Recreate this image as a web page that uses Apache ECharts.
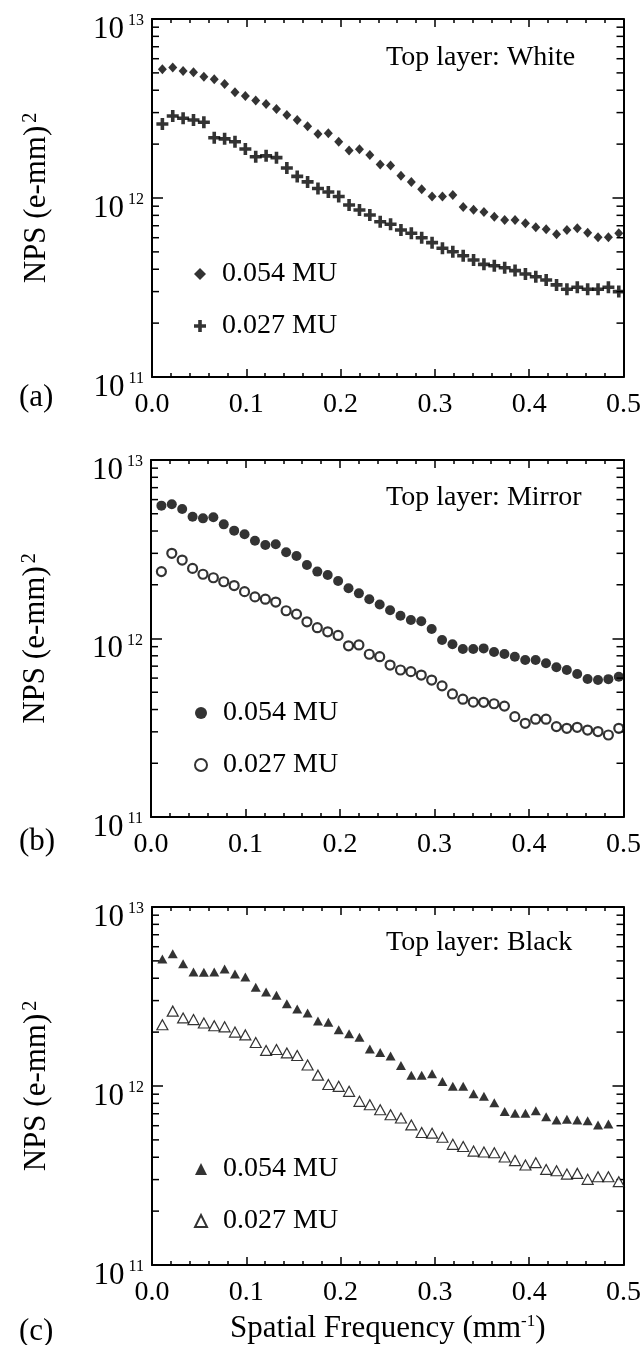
<!DOCTYPE html>
<html>
<head>
<meta charset="utf-8">
<script src="https://cdn.jsdelivr.net/npm/echarts@6/dist/echarts.min.js"></script>
<style>
html, body { margin: 0; padding: 0; background: #fff; }
#main { width: 644px; height: 1345px; }
</style>
</head>
<body>
<div id="main"></div>
<script>
// spatial frequency of each NPS sample (mm^-1)
const freq = [0.011, 0.022, 0.033, 0.044, 0.055, 0.066, 0.077, 0.088, 0.099, 0.110,
  0.121, 0.132, 0.143, 0.154, 0.165, 0.176, 0.187, 0.198, 0.209, 0.220,
  0.231, 0.242, 0.253, 0.264, 0.275, 0.286, 0.297, 0.308, 0.319, 0.330,
  0.341, 0.352, 0.363, 0.374, 0.385, 0.396, 0.407, 0.418, 0.429, 0.440,
  0.451, 0.462, 0.473, 0.484, 0.495];

// (a) top layer white
const whiteHigh = [5.24e12, 5.35e12, 5.12e12, 5.04e12, 4.76e12, 4.60e12, 4.33e12, 3.90e12, 3.71e12, 3.50e12,
  3.35e12, 3.14e12, 2.91e12, 2.73e12, 2.52e12, 2.28e12, 2.30e12, 2.06e12, 1.84e12, 1.87e12,
  1.74e12, 1.54e12, 1.52e12, 1.33e12, 1.23e12, 1.12e12, 1.02e12, 1.02e12, 1.04e12, 8.9e11,
  8.6e11, 8.35e11, 7.86e11, 7.53e11, 7.53e11, 7.22e11, 6.86e11, 6.68e11, 6.27e11, 6.63e11,
  6.77e11, 6.40e11, 6.03e11, 6.03e11, 6.35e11];
const whiteLow = [2.59e12, 2.87e12, 2.79e12, 2.73e12, 2.65e12, 2.17e12, 2.14e12, 2.06e12, 1.88e12, 1.70e12,
  1.72e12, 1.68e12, 1.47e12, 1.32e12, 1.23e12, 1.13e12, 1.08e12, 1.02e12, 9.14e11, 8.57e11,
  8.04e11, 7.37e11, 7.13e11, 6.63e11, 6.35e11, 6.00e11, 5.63e11, 5.24e11, 5.01e11, 4.76e11,
  4.50e11, 4.26e11, 4.18e11, 4.08e11, 3.93e11, 3.76e11, 3.63e11, 3.48e11, 3.27e11, 3.09e11,
  3.17e11, 3.09e11, 3.09e11, 3.17e11, 3.00e11];

// (b) top layer mirror
const mirrorHigh = [5.55e12, 5.65e12, 5.31e12, 4.81e12, 4.71e12, 4.78e12, 4.36e12, 4.02e12, 3.84e12, 3.53e12,
  3.34e12, 3.37e12, 3.04e12, 2.90e12, 2.58e12, 2.37e12, 2.27e12, 2.10e12, 1.91e12, 1.79e12,
  1.66e12, 1.55e12, 1.44e12, 1.34e12, 1.27e12, 1.25e12, 1.13e12, 9.8e11, 9.28e11, 8.73e11,
  8.73e11, 8.8e11, 8.40e11, 8.19e11, 7.91e11, 7.58e11, 7.58e11, 7.26e11, 6.90e11, 6.66e11,
  6.32e11, 5.93e11, 5.85e11, 5.92e11, 6.11e11];
const mirrorLow = [2.37e12, 3.00e12, 2.75e12, 2.47e12, 2.29e12, 2.19e12, 2.08e12, 1.98e12, 1.83e12, 1.71e12,
  1.66e12, 1.60e12, 1.43e12, 1.37e12, 1.24e12, 1.15e12, 1.09e12, 1.04e12, 9.1e11, 9.2e11,
  8.16e11, 7.91e11, 7.10e11, 6.66e11, 6.52e11, 6.24e11, 5.85e11, 5.43e11, 4.89e11, 4.57e11,
  4.40e11, 4.39e11, 4.31e11, 4.18e11, 3.65e11, 3.35e11, 3.53e11, 3.53e11, 3.21e11, 3.14e11,
  3.18e11, 3.07e11, 3.01e11, 2.88e11, 3.14e11];

// (c) top layer black
const blackHigh = [5.12e12, 5.48e12, 4.82e12, 4.33e12, 4.32e12, 4.33e12, 4.50e12, 4.22e12, 4.06e12, 3.56e12,
  3.35e12, 3.21e12, 2.88e12, 2.69e12, 2.56e12, 2.31e12, 2.27e12, 2.06e12, 1.96e12, 1.87e12,
  1.61e12, 1.54e12, 1.47e12, 1.30e12, 1.15e12, 1.15e12, 1.17e12, 1.06e12, 9.96e11, 9.96e11,
  9.06e11, 8.76e11, 8.07e11, 7.20e11, 7.04e11, 7.04e11, 7.28e11, 6.74e11, 6.46e11, 6.52e11,
  6.46e11, 6.40e11, 6.06e11, 6.14e11];
const blackLow = [2.20e12, 2.62e12, 2.40e12, 2.35e12, 2.25e12, 2.17e12, 2.14e12, 2.00e12, 1.93e12, 1.75e12,
  1.58e12, 1.60e12, 1.53e12, 1.48e12, 1.31e12, 1.15e12, 1.02e12, 9.96e11, 9.34e11, 8.21e11,
  7.86e11, 7.37e11, 6.91e11, 6.63e11, 6.06e11, 5.50e11, 5.45e11, 5.17e11, 4.72e11, 4.59e11,
  4.33e11, 4.28e11, 4.24e11, 4.01e11, 3.83e11, 3.62e11, 3.73e11, 3.42e11, 3.36e11, 3.22e11,
  3.25e11, 3.01e11, 3.11e11, 3.11e11, 2.92e11];

// minor log ticks (2..9 per decade)
const yMinor = [2e11, 3e11, 4e11, 5e11, 6e11, 7e11, 8e11, 9e11,
  2e12, 3e12, 4e12, 5e12, 6e12, 7e12, 8e12, 9e12];

const FONT = 'Liberation Serif';
const PLUS = 'path://M3.5,0H6.5V3.5H10V6.5H6.5V10H3.5V6.5H0V3.5H3.5Z';

const panels = [
  {grid: {left: 152, top: 19, width: 474, height: 358}, title: 'Top layer: White', titleY: 60, tag: '(a)', tagY: 399,
   key: 'W', high: whiteHigh, low: whiteLow, legendTop: 259,
   symHigh: {symbol: 'diamond', symbolSize: [9, 10], itemStyle: {color: '#000'}},
   symLow: {symbol: PLUS, symbolSize: 12, itemStyle: {color: '#000'}}},
  {grid: {left: 151, top: 460, width: 474, height: 357}, title: 'Top layer: Mirror', titleY: 500, tag: '(b)', tagY: 843,
   key: 'M', high: mirrorHigh, low: mirrorLow, legendTop: 698,
   symHigh: {symbol: 'circle', symbolSize: 10, itemStyle: {color: '#000'}},
   symLow: {symbol: 'circle', symbolSize: 9, itemStyle: {color: '#fff', borderColor: '#000', borderWidth: 2.2}}},
  {grid: {left: 152, top: 907, width: 474, height: 358}, title: 'Top layer: Black', titleY: 945, tag: '(c)', tagY: 1333,
   key: 'B', high: blackHigh, low: blackLow, legendTop: 1154,
   symHigh: {symbol: 'triangle', symbolSize: [10, 9], itemStyle: {color: '#000'}},
   symLow: {symbol: 'triangle', symbolSize: [11, 10], itemStyle: {color: '#fff', borderColor: '#000', borderWidth: 1.2}}}
];

const grid = [], xAxis = [], yAxis = [], series = [], legend = [], graphic = [];

panels.forEach((p, i) => {
  grid.push(p.grid);
  const tickStyle = {color: '#000', width: 1.5};
  const xBase = {
    type: 'value', gridIndex: i, min: 0, max: 0.5, interval: 0.1,
    axisLine: {show: true, onZero: false, lineStyle: {color: '#000', width: 2}},
    axisTick: {show: true, inside: true, length: 8, lineStyle: tickStyle},
    minorTick: {show: true, splitNumber: 5, length: 4, lineStyle: tickStyle},
    splitLine: {show: false}
  };
  xAxis.push(Object.assign({}, xBase, {
    position: 'bottom',
    axisLabel: {margin: 14, fontSize: 28, fontFamily: FONT, color: '#000', formatter: v => v.toFixed(1)},
    name: i === 2 ? '{t|Spatial Frequency (mm}{s|-1}{t|)}' : '',
    nameLocation: 'middle', nameGap: 48,
    nameTextStyle: {rich: {
      t: {fontSize: 31, fontFamily: FONT, color: '#000', lineHeight: 31, verticalAlign: 'bottom'},
      s: {fontSize: 17, fontFamily: FONT, color: '#000', lineHeight: 17, verticalAlign: 'top'}
    }}
  }));
  xAxis.push(Object.assign({}, xBase, {position: 'top', axisLabel: {show: false}}));

  const yBase = {
    type: 'log', logBase: 10, gridIndex: i, min: 1e11, max: 1e13,
    axisLine: {show: true, onZero: false, lineStyle: {color: '#000', width: 2}},
    axisTick: {show: true, inside: true, length: 11, lineStyle: tickStyle},
    splitLine: {show: false}
  };
  yAxis.push(Object.assign({}, yBase, {
    position: 'left',
    axisLabel: {
      margin: 8, padding: [20, 0, 0, 0],
      formatter: v => '{b|10}{e|' + Math.round(Math.log10(v)) + '}',
      rich: {
        b: {fontSize: 31, fontFamily: FONT, color: '#000', lineHeight: 32, padding: [6, 0, 0, 0], verticalAlign: 'bottom'},
        e: {fontSize: 16, fontFamily: FONT, color: '#000', lineHeight: 16, padding: [0, 0, 0, 4], verticalAlign: 'top'}
      }
    },
    name: '{t|NPS (e-mm)}{s|2}',
    nameLocation: 'middle', nameGap: 100,
    nameTextStyle: {rich: {
      t: {fontSize: 31, fontFamily: FONT, color: '#000', lineHeight: 31, verticalAlign: 'bottom'},
      s: {fontSize: 20, fontFamily: FONT, color: '#000', lineHeight: 20, verticalAlign: 'top', padding: [0, 0, 0, 3]}
    }}
  }));
  yAxis.push(Object.assign({}, yBase, {position: 'right', axisLabel: {show: false}}));

  const xi = i * 2, yi = i * 2;
  const nameHigh = p.key + '|0.054 MU';
  const nameLow = p.key + '|0.027 MU';
  series.push(Object.assign({
    name: nameHigh, type: 'scatter', xAxisIndex: xi, yAxisIndex: yi,
    data: p.high.map((v, k) => [freq[k], v])
  }, p.symHigh));
  series.push(Object.assign({
    name: nameLow, type: 'scatter', xAxisIndex: xi, yAxisIndex: yi,
    data: p.low.map((v, k) => [freq[k], v])
  }, p.symLow));
  // minor y ticks on both frame sides
  series.push({
    type: 'custom', xAxisIndex: xi, yAxisIndex: yi, silent: true, clip: false,
    data: yMinor.map(v => [0, v]),
    renderItem: (params, api) => {
      const v = api.value(1);
      const pl = api.coord([0, v]);
      const pr = api.coord([0.5, v]);
      const st = {stroke: '#000', lineWidth: 1.5};
      return {type: 'group', children: [
        {type: 'line', shape: {x1: pl[0], y1: pl[1], x2: pl[0] + 7, y2: pl[1]}, style: st},
        {type: 'line', shape: {x1: pr[0], y1: pr[1], x2: pr[0] - 7, y2: pr[1]}, style: st}
      ]};
    }
  });

  legend.push({
    data: [nameHigh, nameLow], orient: 'vertical', left: 194, top: p.legendTop,
    padding: 0, itemWidth: 12, itemHeight: 12, itemGap: 22, selectedMode: false,
    formatter: n => n.split('|')[1],
    textStyle: {fontSize: 28, fontFamily: FONT, color: '#000', lineHeight: 30, padding: [0, 0, 0, 11]}
  });

  graphic.push({type: 'text', left: 386, top: p.titleY - 16,
    style: {text: p.title, fontSize: 28, fontFamily: FONT, fill: '#000'}});
  graphic.push({type: 'text', left: 19, top: p.tagY - 17,
    style: {text: p.tag, fontSize: 31, fontFamily: FONT, fill: '#000'}});
});

const myChart = echarts.init(document.getElementById('main'));
myChart.setOption({
  animation: false,
  backgroundColor: '#fff',
  grid: grid,
  xAxis: xAxis,
  yAxis: yAxis,
  legend: legend,
  graphic: graphic,
  series: series
});
</script>
</body>
</html>
